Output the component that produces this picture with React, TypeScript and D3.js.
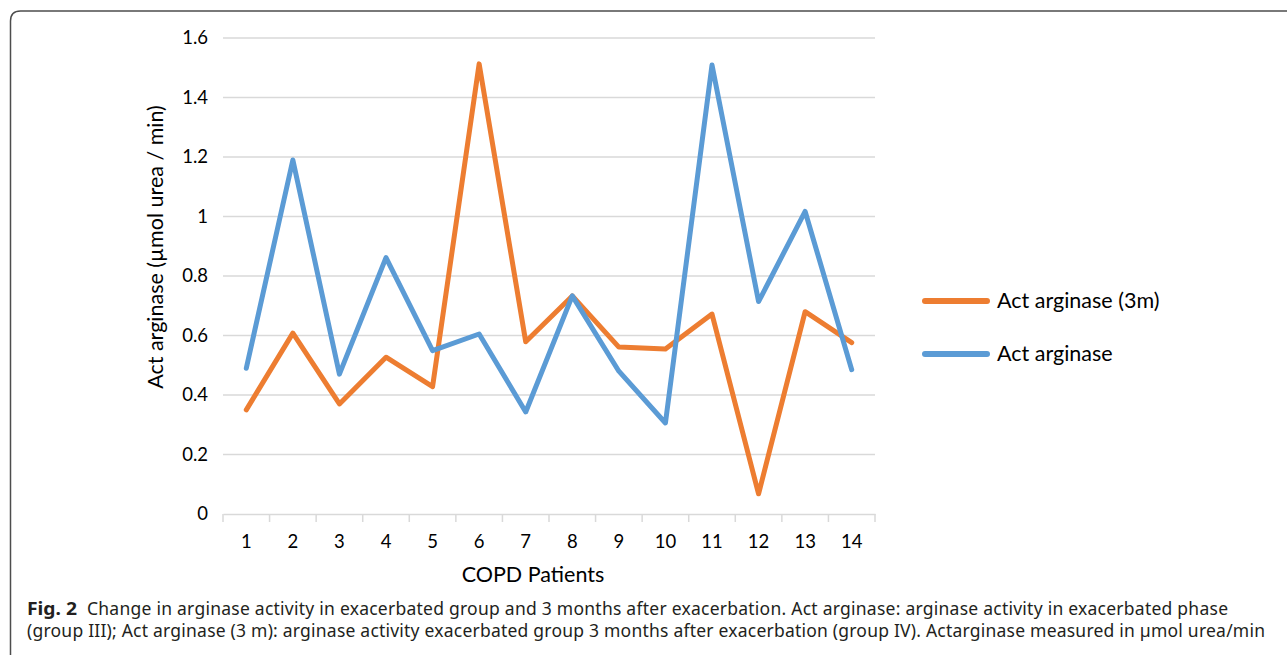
import React, { useEffect, useRef } from 'react'
import * as d3 from 'd3'

const patients = ['1', '2', '3', '4', '5', '6', '7', '8', '9', '10', '11', '12', '13', '14']
const actArginase3m = [0.35, 0.608, 0.37, 0.527, 0.428, 1.513, 0.579, 0.733, 0.561, 0.555, 0.672, 0.068, 0.68, 0.576]
const actArginase = [0.49, 1.19, 0.47, 0.862, 0.549, 0.605, 0.343, 0.733, 0.48, 0.306, 1.509, 0.714, 1.017, 0.485]
const yTicks = [0, 0.2, 0.4, 0.6, 0.8, 1, 1.2, 1.4, 1.6]
const seriesNames = ['Act arginase (3m)', 'Act arginase']

const captionLine1 =
     'Change in arginase activity in exacerbated group and 3 months after exacerbation. Act arginase: arginase activity in exacerbated phase'
const captionLine2 =
     '(group III); Act arginase (3 m): arginase activity exacerbated group 3 months after exacerbation (group IV). Actarginase measured in µmol urea/min'

const App = () => {
     const svgRef = useRef(null)

     useEffect(() => {
          const width = 1287
          const height = 655
          const plot = { left: 223, right: 875, top: 38, bottom: 514 }
          const chartFont = 'Lato, "Open Sans", sans-serif'
          const captionFont = '"Noto Sans", "Open Sans", sans-serif'

          const svgElement = d3.select(svgRef.current)
          svgElement.selectAll('*').remove()
          const svg = svgElement.attr('width', width).attr('height', height)

          svg.append('rect').attr('width', width).attr('height', height).attr('fill', '#fff')

          // frame: rounded top-left corner, open at the right and bottom
          svg.append('path')
               .attr('d', `M10.5,${height} L10.5,21 Q10.5,11 20.5,11 L${width},11`)
               .attr('fill', 'none')
               .attr('stroke', '#4d4d4d')
               .attr('stroke-width', 1.5)

          const xScale = d3
               .scaleBand()
               .domain(patients)
               .range([plot.left, plot.right])
          const yScale = d3
               .scaleLinear()
               .domain([0, 1.6])
               .range([plot.bottom, plot.top])

          const gridLineStroke = '#d9d9d9'

          svg.append('g')
               .selectAll('line')
               .data(yTicks.filter((t) => t > 0))
               .enter()
               .append('line')
               .attr('x1', plot.left)
               .attr('x2', plot.right)
               .attr('y1', (d) => yScale(d))
               .attr('y2', (d) => yScale(d))
               .attr('stroke', gridLineStroke)
               .attr('stroke-width', 1.5)

          const xAxis = d3
               .axisBottom(xScale)
               .tickSizeInner(0)
               .tickSizeOuter(0)
               .tickPadding(21)
          const xAxisG = svg
               .append('g')
               .attr('transform', `translate(0,${plot.bottom})`)
               .call(xAxis)
          xAxisG.select('.domain').attr('stroke', gridLineStroke).attr('stroke-width', 1.5)
          xAxisG
               .selectAll('text')
               .style('font-family', chartFont)
               .style('font-size', '18.5px')
               .attr('fill', '#000')

          // category boundary ticks
          const boundaries = patients.map((p) => xScale(p)).concat([plot.right])
          svg.append('g')
               .selectAll('line')
               .data(boundaries)
               .enter()
               .append('line')
               .attr('x1', (d) => d)
               .attr('x2', (d) => d)
               .attr('y1', plot.bottom)
               .attr('y2', plot.bottom + 8)
               .attr('stroke', gridLineStroke)
               .attr('stroke-width', 1.5)

          const yAxis = d3
               .axisLeft(yScale)
               .tickValues(yTicks)
               .tickFormat((d) => String(d))
               .tickSize(0)
               .tickPadding(15)
          const yAxisG = svg
               .append('g')
               .attr('transform', `translate(${plot.left},0)`)
               .call(yAxis)
          yAxisG.select('.domain').remove()
          yAxisG
               .selectAll('text')
               .style('font-family', chartFont)
               .style('font-size', '18.5px')
               .attr('fill', '#000')

          const colors = ['#ED7D31', '#5B9BD5']
          const allSeries = [actArginase3m, actArginase]

          const line = d3
               .line()
               .x((d, i) => xScale(patients[i]) + xScale.bandwidth() / 2)
               .y((d) => yScale(d))

          allSeries.forEach((values, k) => {
               svg.append('path')
                    .datum(values)
                    .attr('d', line)
                    .attr('fill', 'none')
                    .attr('stroke', colors[k])
                    .attr('stroke-width', 5)
                    .attr('stroke-linejoin', 'round')
                    .attr('stroke-linecap', 'round')
          })

          // axis titles
          svg.append('text')
               .attr('x', 533)
               .attr('y', 582)
               .attr('text-anchor', 'middle')
               .style('font-family', chartFont)
               .style('font-size', '21.5px')
               .attr('fill', '#000')
               .text('COPD Patients')

          svg.append('text')
               .attr('transform', 'rotate(-90)')
               .attr('x', -247)
               .attr('y', 163)
               .attr('text-anchor', 'middle')
               .style('font-family', chartFont)
               .style('font-size', '21.5px')
               .attr('fill', '#000')
               .text('Act arginase (µmol urea / min)')

          // legend
          const legend = svg
               .append('g')
               .selectAll('g')
               .data(seriesNames)
               .enter()
               .append('g')
               .attr('transform', (d, i) => `translate(0,${301 + i * 53})`)
          legend
               .append('line')
               .attr('x1', 925)
               .attr('x2', 987)
               .attr('stroke', (d, i) => colors[i])
               .attr('stroke-width', 6)
               .attr('stroke-linecap', 'round')
          legend
               .append('text')
               .attr('x', 997)
               .attr('y', 7)
               .style('font-family', chartFont)
               .style('font-size', '21.5px')
               .attr('fill', '#000')
               .text((d) => d)

          // caption
          svg.append('text')
               .attr('x', 27)
               .attr('y', 615)
               .attr('textLength', 50)
               .attr('lengthAdjust', 'spacingAndGlyphs')
               .style('font-family', captionFont)
               .style('font-size', '17.5px')
               .style('font-weight', 'bold')
               .attr('fill', '#231f20')
               .text('Fig. 2')
          svg.append('text')
               .attr('x', 87)
               .attr('y', 615)
               .attr('textLength', 1141)
               .attr('lengthAdjust', 'spacing')
               .style('font-family', captionFont)
               .style('font-size', '17.5px')
               .attr('fill', '#231f20')
               .text(captionLine1)
          svg.append('text')
               .attr('x', 27)
               .attr('y', 637)
               .attr('textLength', 1238)
               .attr('lengthAdjust', 'spacing')
               .style('font-family', captionFont)
               .style('font-size', '17.5px')
               .attr('fill', '#231f20')
               .text(captionLine2)
     }, [])

     return (
          <div style={{ position: 'absolute', left: 0, top: 0 }}>
               <svg ref={svgRef} style={{ display: 'block' }}></svg>
          </div>
     )
}

export default App
